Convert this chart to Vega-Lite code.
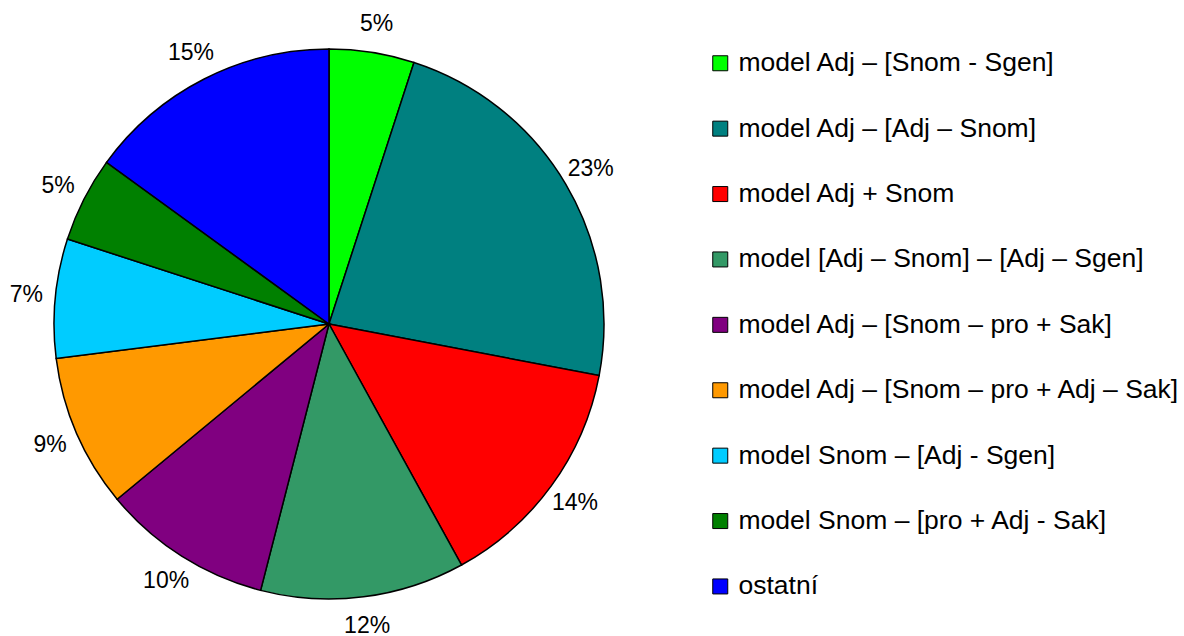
{
  "$schema": "https://vega.github.io/schema/vega-lite/v6.json",
  "width": 658,
  "height": 624,
  "autosize": {"type": "none"},
  "padding": {"left": 0, "top": 12, "right": 526, "bottom": 0},
  "background": "white",
  "config": {"view": {"stroke": null}},
  "data": {"values": [
    {"idx": 1, "category": "model Adj – [Snom - Sgen]", "share": 0.05},
    {"idx": 2, "category": "model Adj – [Adj – Snom]", "share": 0.23},
    {"idx": 3, "category": "model Adj + Snom", "share": 0.14},
    {"idx": 4, "category": "model [Adj – Snom] – [Adj – Sgen]", "share": 0.12},
    {"idx": 5, "category": "model Adj – [Snom – pro + Sak]", "share": 0.10},
    {"idx": 6, "category": "model Adj – [Snom – pro + Adj – Sak]", "share": 0.09},
    {"idx": 7, "category": "model Snom – [Adj - Sgen]", "share": 0.07},
    {"idx": 8, "category": "model Snom – [pro + Adj - Sak]", "share": 0.05},
    {"idx": 9, "category": "ostatní", "share": 0.15}
  ]},
  "encoding": {
    "theta": {"field": "share", "type": "quantitative", "stack": true},
    "order": {"field": "idx", "type": "quantitative"}
  },
  "layer": [
    {
      "mark": {"type": "arc", "outerRadius": 275, "stroke": "black", "strokeWidth": 1.5},
      "encoding": {
        "color": {
          "field": "category",
          "type": "nominal",
          "sort": null,
          "scale": {
            "domain": ["model Adj – [Snom - Sgen]", "model Adj – [Adj – Snom]", "model Adj + Snom", "model [Adj – Snom] – [Adj – Sgen]", "model Adj – [Snom – pro + Sak]", "model Adj – [Snom – pro + Adj – Sak]", "model Snom – [Adj - Sgen]", "model Snom – [pro + Adj - Sak]", "ostatní"],
            "range": ["#00FF00", "#008080", "#FF0000", "#339966", "#800080", "#FF9900", "#00CCFF", "#008000", "#0000FF"]
          },
          "legend": {
            "title": null,
            "orient": "none",
            "legendX": 707,
            "legendY": 38,
            "symbolType": "square",
            "symbolSize": 225,
            "symbolStrokeColor": "black",
            "symbolStrokeWidth": 1,
            "symbolOpacity": 1,
            "labelFont": "Liberation Sans",
            "labelFontSize": 26.5,
            "labelColor": "black",
            "labelOffset": 5,
            "labelLimit": 600,
            "rowPadding": 38.4
          }
        }
      }
    },
    {
      "mark": {"type": "text", "radius": 304, "font": "Liberation Sans", "fontSize": 23, "color": "black", "align": "center", "baseline": "middle"},
      "encoding": {
        "text": {"field": "share", "type": "quantitative", "format": ".0%"}
      }
    }
  ]
}
